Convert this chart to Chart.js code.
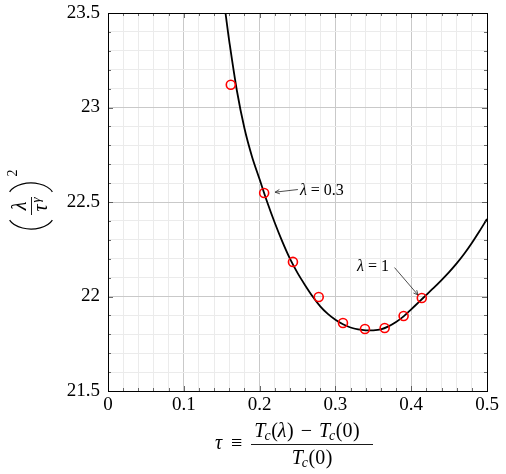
<!DOCTYPE html>
<html>
<head>
<meta charset="utf-8">
<script src="https://cdn.jsdelivr.net/npm/chart.js@4/dist/chart.umd.min.js"></script>
<style>
  html, body { margin: 0; padding: 0; background: #fff; }
  #wrap { width: 506px; height: 474px; position: relative; }
</style>
</head>
<body>
<div id="wrap"><canvas id="c"></canvas></div>
<script>
/* ---- data ---- */
var pointTau = [0.162, 0.206, 0.244, 0.278, 0.310, 0.339, 0.365, 0.390, 0.414];
var pointVal = [23.12, 22.548, 22.183, 21.997, 21.860, 21.828, 21.833, 21.897, 21.992];

var curveTau = [0.155, 0.16, 0.17, 0.18, 0.19, 0.20, 0.21, 0.22, 0.23, 0.24, 0.25, 0.26, 0.27, 0.28, 0.29, 0.30,
                0.31, 0.32, 0.33, 0.34, 0.35, 0.36, 0.37, 0.38, 0.39, 0.40, 0.41, 0.42, 0.43, 0.44, 0.45, 0.46,
                0.47, 0.48, 0.49, 0.50];
var curveVal = [23.50, 23.35, 23.09, 22.89, 22.74, 22.62, 22.50, 22.39, 22.29, 22.20, 22.125, 22.06, 22.00, 21.948, 21.908, 21.877,
                21.853, 21.836, 21.826, 21.821, 21.821, 21.826, 21.842, 21.865, 21.895, 21.932, 21.970, 22.009, 22.047, 22.087, 22.129, 22.175,
                22.226, 22.283, 22.345, 22.41];

var xTicks = ['0', '0.1', '0.2', '0.3', '0.4', '0.5'];
var yTicks = ['21.5', '22', '22.5', '23', '23.5'];

function zip(xs, ys) {
    return xs.map(function(x, i) { return { x: x, y: ys[i] }; });
}

var SERIF = "'Liberation Serif', 'DejaVu Serif', serif";
var MAJOR_GRID = '#c9c9c9';
var MINOR_GRID = '#ebebeb';

function isMajor(v, step) {
    var r = v / step;
    return Math.abs(r - Math.round(r)) < 1e-6;
}

/* ---- frame, tick marks, axis titles, annotations ---- */
var decorations = {
    id: 'decorations',
    afterDraw: function(chart) {
        var ctx = chart.ctx;
        var a = chart.chartArea;
        var xs = chart.scales.x, ys = chart.scales.y;
        ctx.save();

        // inner tick marks on all four sides
        ctx.strokeStyle = '#444';
        ctx.lineWidth = 0.8;
        ctx.beginPath();
        xs.ticks.forEach(function(t) {
            var px = Math.round(xs.getPixelForValue(t.value)) + 0.5;
            var len = isMajor(t.value, 0.1) ? 5 : 3;
            ctx.moveTo(px, a.bottom); ctx.lineTo(px, a.bottom - len);
            ctx.moveTo(px, a.top); ctx.lineTo(px, a.top + len);
        });
        ys.ticks.forEach(function(t) {
            var py = Math.round(ys.getPixelForValue(t.value)) + 0.5;
            var len = isMajor(t.value, 0.5) ? 5 : 3;
            ctx.moveTo(a.left, py); ctx.lineTo(a.left + len, py);
            ctx.moveTo(a.right, py); ctx.lineTo(a.right - len, py);
        });
        ctx.stroke();

        // frame
        ctx.strokeStyle = '#000';
        ctx.lineWidth = 1;
        ctx.strokeRect(Math.round(a.left) + 0.5, Math.round(a.top) + 0.5,
                       Math.round(a.right - a.left), Math.round(a.bottom - a.top));

        ctx.fillStyle = '#000';
        ctx.textBaseline = 'alphabetic';

        // x title: tau = (Tc(lambda) - Tc(0)) / Tc(0)
        ctx.textAlign = 'left';
        ctx.font = 'italic 20px ' + SERIF;
        ctx.fillText('\u03C4', 215, 449);
        ctx.font = '20px ' + SERIF;
        ctx.fillText('\u2261', 231, 449);
        var numW = tcGroup(ctx, 0, 0, '\u03BB', false) + 12 + minusW(ctx) + 12 + tcGroup(ctx, 0, 0, '0', false);
        var x = 312 - numW / 2;
        x = tcGroup(ctx, x, 437, '\u03BB', true);
        x += 7;
        ctx.font = '20px ' + SERIF;
        ctx.fillText('\u2212', x, 437);
        x += minusW(ctx) + 7;
        tcGroup(ctx, x, 437, '0', true);
        ctx.lineWidth = 0.9;
        ctx.beginPath();
        ctx.moveTo(251, 444.5); ctx.lineTo(373, 444.5);
        ctx.stroke();
        var denW = tcGroup(ctx, 0, 0, '0', false);
        tcGroup(ctx, 312 - denW / 2, 464, '0', true);

        // y title: (lambda / tau^gamma)^2, rotated
        ctx.save();
        ctx.translate(31, 206);
        ctx.rotate(-Math.PI / 2);
        ctx.textAlign = 'center';
        ctx.font = 'italic 20px ' + SERIF;
        ctx.fillText('\u03BB', 0, -5);
        ctx.fillText('\u03C4', -2, 16);
        ctx.font = 'italic 13px ' + SERIF;
        ctx.fillText('\u03B3', 6, 9);
        ctx.lineWidth = 0.9;
        ctx.beginPath();
        ctx.moveTo(-9, 0.5); ctx.lineTo(9, 0.5);
        ctx.stroke();
        ctx.lineWidth = 1.2;
        ctx.beginPath();
        ctx.ellipse(-9, 0, 14, 23, 0, Math.PI * 0.62, Math.PI * 1.38);
        ctx.stroke();
        ctx.beginPath();
        ctx.ellipse(9, 0, 14, 23, 0, -Math.PI * 0.38, Math.PI * 0.38);
        ctx.stroke();
        ctx.font = '14px ' + SERIF;
        ctx.fillText('2', 33, -14);
        ctx.restore();

        // annotation: lambda = 0.3
        ctx.textAlign = 'left';
        var t1 = [xs.getPixelForValue(0.2505), ys.getPixelForValue(22.566)];
        var h1 = [xs.getPixelForValue(0.2205), ys.getPixelForValue(22.552)];
        arrow(ctx, t1, h1);
        mathLabel(ctx, '\u03BB', ' = 0.3', t1[0] + 2, ys.getPixelForValue(22.535));

        // annotation: lambda = 1
        var t2 = [xs.getPixelForValue(0.378), ys.getPixelForValue(22.153)];
        var h2 = [xs.getPixelForValue(0.409), ys.getPixelForValue(22.008)];
        arrow(ctx, t2, h2);
        mathLabel(ctx, '\u03BB', ' = 1', xs.getPixelForValue(0.3285), ys.getPixelForValue(22.135));

        ctx.restore();
    }
};

function minusW(ctx) {
    ctx.font = '20px ' + SERIF;
    return ctx.measureText('\u2212').width;
}

// T_c(arg): draws when paint is true, returns end x
function tcGroup(ctx, x, y, arg, paint) {
    var parts = [
        ['italic 20px ', 'T', 0, -1],
        ['italic 14px ', 'c', 3, 0.5],
        ['20px ', '(', 0, 0],
        [(arg === '0' ? '' : 'italic ') + '20px ', arg, 0, 0.5],
        ['20px ', ')', 0, 0]
    ];
    parts.forEach(function(p) {
        ctx.font = p[0] + SERIF;
        if (paint) ctx.fillText(p[1], x, y + p[2]);
        x += ctx.measureText(p[1]).width + p[3];
    });
    return x;
}

function mathLabel(ctx, sym, rest, x, y) {
    ctx.font = 'italic 16px ' + SERIF;
    ctx.fillText(sym, x, y);
    var w = ctx.measureText(sym).width;
    ctx.font = '16px ' + SERIF;
    ctx.fillText(rest, x + w, y);
}

function arrow(ctx, from, to) {
    ctx.strokeStyle = '#222';
    ctx.lineWidth = 0.8;
    ctx.beginPath();
    ctx.moveTo(from[0], from[1]); ctx.lineTo(to[0], to[1]);
    var ang = Math.atan2(to[1] - from[1], to[0] - from[0]);
    var L = 5;
    ctx.moveTo(to[0] - L * Math.cos(ang - 0.45), to[1] - L * Math.sin(ang - 0.45));
    ctx.lineTo(to[0], to[1]);
    ctx.lineTo(to[0] - L * Math.cos(ang + 0.45), to[1] - L * Math.sin(ang + 0.45));
    ctx.stroke();
}

new Chart(document.getElementById('c'), {
    type: 'line',
    data: {
        datasets: [
            {
                label: 'fit',
                data: zip(curveTau, curveVal),
                borderColor: '#000',
                borderWidth: 1.8,
                pointRadius: 0,
                tension: 0.3,
                fill: false,
                order: 2
            },
            {
                label: 'data',
                data: zip(pointTau, pointVal),
                showLine: false,
                borderColor: '#ff0000',
                backgroundColor: 'rgba(0,0,0,0)',
                pointRadius: 4.5,
                pointBorderWidth: 1.6,
                pointBorderColor: '#ff0000',
                pointBackgroundColor: 'rgba(0,0,0,0)',
                order: 1
            }
        ]
    },
    options: {
        responsive: true,
        maintainAspectRatio: false,
        animation: false,
        layout: { padding: { top: 13, right: 19, left: 0, bottom: 0 } },
        plugins: { legend: { display: false }, tooltip: { enabled: false } },
        scales: {
            x: {
                type: 'linear',
                min: 0, max: 0.5,
                afterFit: function(s) { s.height = 83; },
                ticks: {
                    stepSize: 0.02,
                    autoSkip: false,
                    maxRotation: 0,
                    padding: 3,
                    color: '#000',
                    font: { size: 19, family: SERIF },
                    callback: function(v) {
                        if (!isMajor(v, 0.1)) return '';
                        return xTicks[Math.round(v / 0.1)];
                    }
                },
                grid: {
                    drawTicks: false,
                    color: function(c) { return isMajor(c.tick.value, 0.1) ? MAJOR_GRID : MINOR_GRID; },
                    lineWidth: 1
                },
                border: { display: false }
            },
            y: {
                min: 21.5, max: 23.5,
                afterFit: function(s) { s.width = 108; s.paddingTop = 0; s.paddingBottom = 0; },
                ticks: {
                    stepSize: 0.1,
                    autoSkip: false,
                    padding: 8,
                    color: '#000',
                    font: { size: 19, family: SERIF },
                    callback: function(v) {
                        if (!isMajor(v, 0.5)) return '';
                        return yTicks[Math.round((v - 21.5) / 0.5)];
                    }
                },
                grid: {
                    drawTicks: false,
                    color: function(c) { return isMajor(c.tick.value, 0.5) ? MAJOR_GRID : MINOR_GRID; },
                    lineWidth: 1
                },
                border: { display: false }
            }
        }
    },
    plugins: [decorations]
});
</script>
</body>
</html>
